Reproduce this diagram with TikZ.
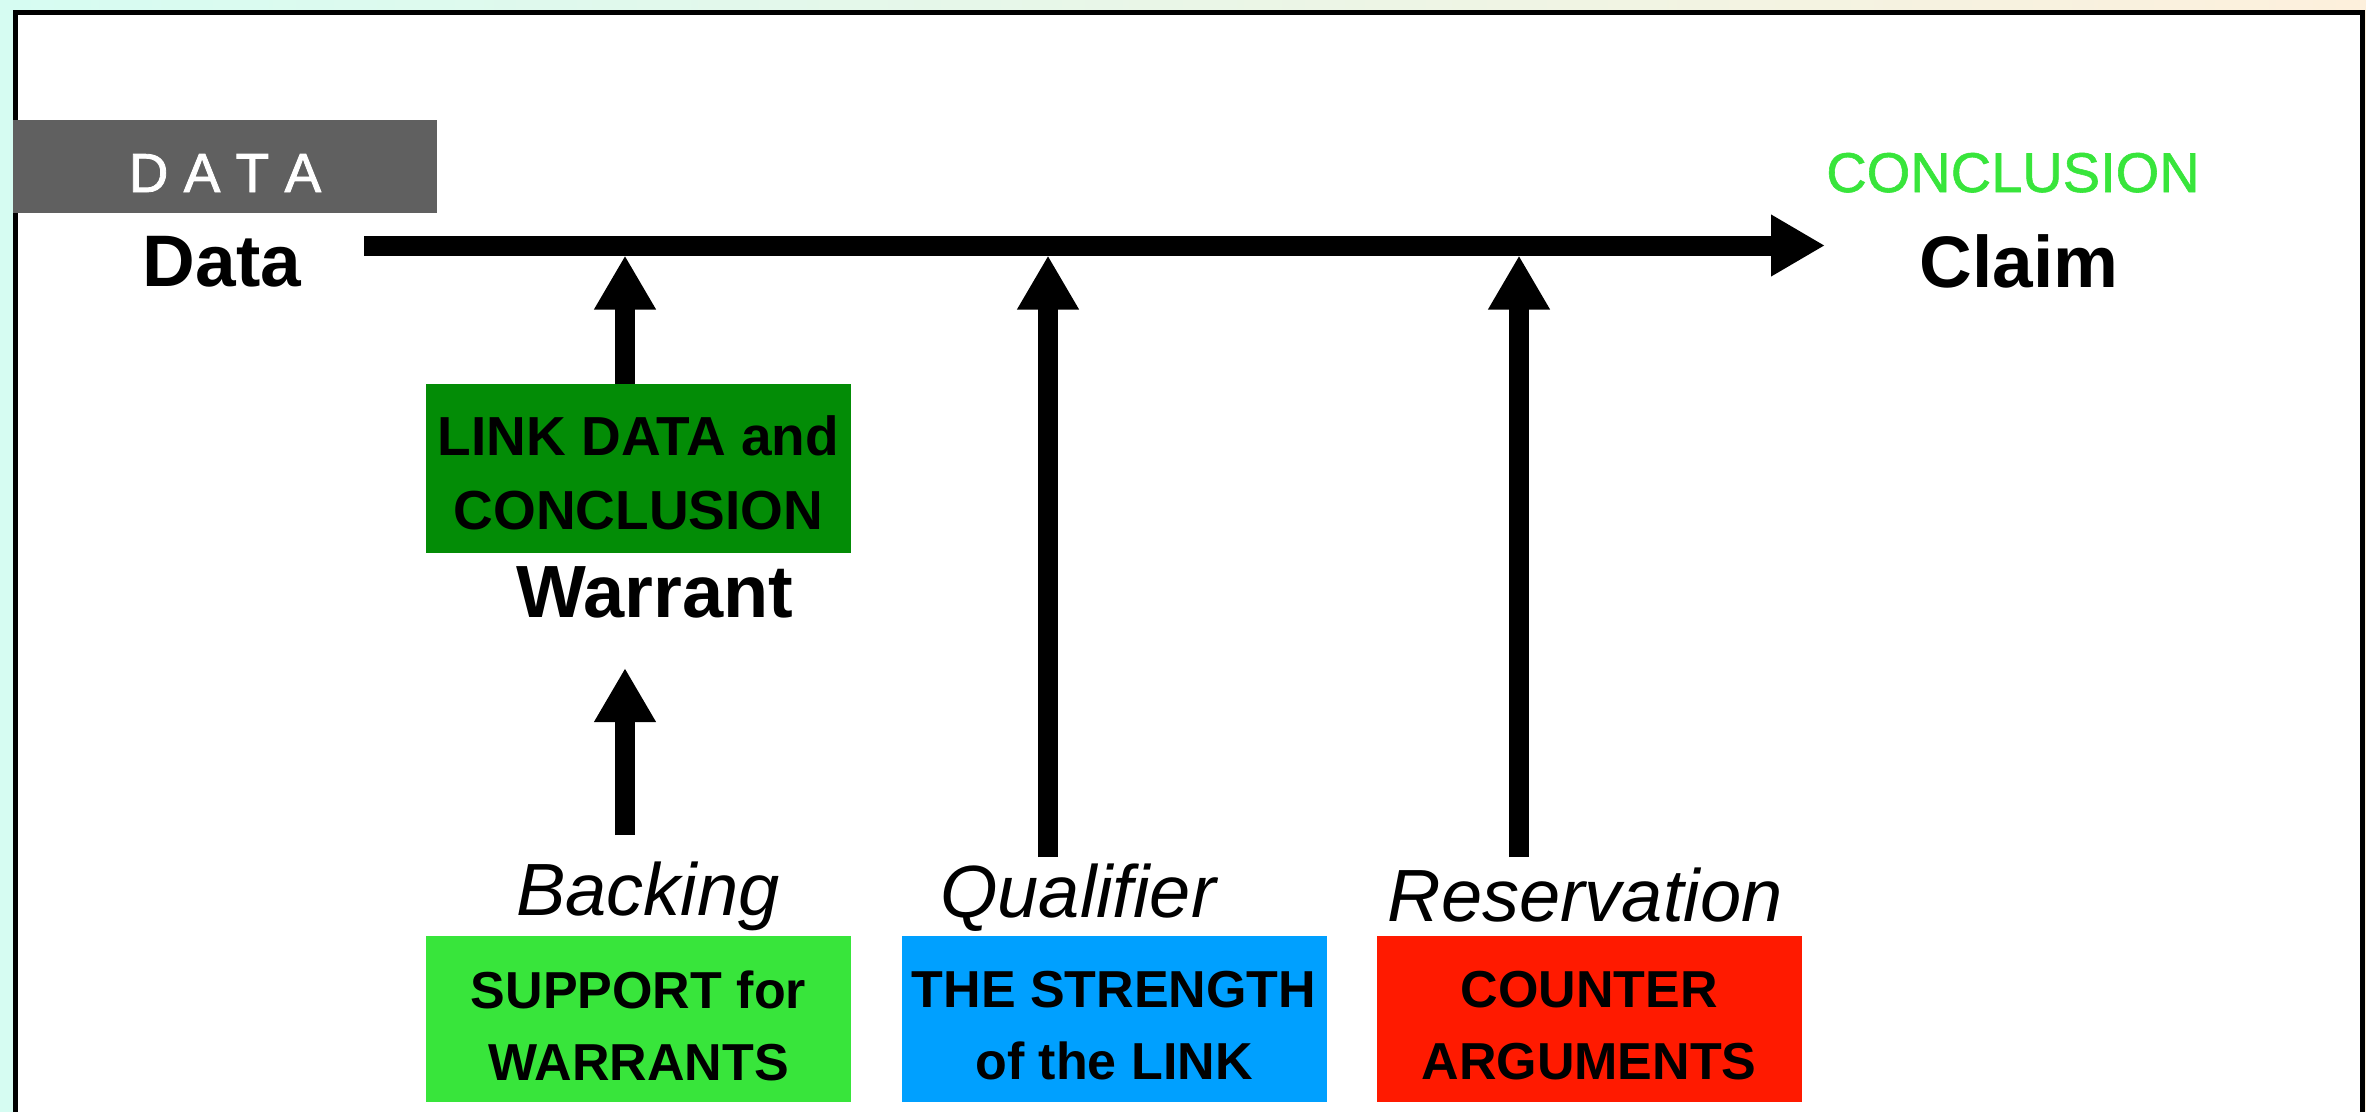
\documentclass[tikz,border=0pt]{standalone}
\usepackage{fontspec}
\setmainfont{Liberation Sans}
\usetikzlibrary{arrows.meta,calc}
\definecolor{mint}{HTML}{D6FCF2}
\definecolor{cream}{HTML}{FDF0DC}
\definecolor{datagray}{HTML}{606060}
\definecolor{darkgreen}{HTML}{038C06}
\definecolor{brightgreen}{HTML}{38E53B}
\definecolor{skyblue}{HTML}{00A0FF}
\definecolor{brightred}{HTML}{FF1A00}
\begin{document}
\begin{tikzpicture}[x=1pt,y=-1pt,
  bigarrow/.style={line width=20pt,-{Triangle[length=54pt,width=58pt]}},
  term/.style={inner sep=0pt,anchor=base,font=\fontsize{73}{80}\selectfont\bfseries},
  role/.style={inner sep=0pt,anchor=base,font=\fontsize{74}{80}\selectfont\itshape},
  colbox/.style={draw=none,inner sep=0pt,minimum width=425pt,minimum height=166pt},
  boxtext/.style={inner sep=0pt,align=center,font=\fontsize{52}{72}\selectfont\bfseries},
]
\useasboundingbox (0,0) rectangle (2366,1111);
\shade[left color=mint,right color=cream] (0,0) rectangle (2366,1111);
\draw[line width=5pt,fill=white] (15,12) rectangle (2362,1140);

% DATA banner
\node[fill=datagray,text=white,inner sep=0pt,minimum width=424pt,minimum height=93pt,
      text height=51pt,text depth=0pt,font=\fontsize{55}{60}\selectfont\addfontfeature{FakeBold=1.5}] (databox) at (225,166.5) {D A T A};
\node[text=brightgreen,inner sep=0pt,anchor=base,font=\fontsize{56}{60}\selectfont\addfontfeature{FakeBold=1}] (concl) at (2013,192) {CONCLUSION};

% terms
\node[term] (data) at (222,286) {Data};
\node[term] (claim) at (2019,287) {Claim};
\node[term,font=\fontsize{74}{80}\selectfont\bfseries] (warrant) at (655,617) {Warrant};

% role labels
\node[role] (backing) at (648,915) {Backing};
\node[role] (qualifier) at (1078,917) {Qualifier};
\node[role] (reservation) at (1585,921) {Reservation};

% coloured boxes
\node[colbox,fill=darkgreen,minimum height=169pt] (wbox) at (638.5,468.5) {};
\node[boxtext,font=\fontsize{55}{74}\selectfont\bfseries] (wtext) at (638.5,472.5) {LINK DATA and\\CONCLUSION};
\node[colbox,fill=brightgreen] (sbox) at (638.5,1019) {};
\node[boxtext] (stext) at (638.5,1025.5) {SUPPORT for\\WARRANTS};
\node[colbox,fill=skyblue] (qbox) at (1114,1019) {};
\node[boxtext] (qtext) at (1114,1025.5) {THE STRENGTH\\of the LINK};
\node[colbox,fill=brightred] (rbox) at (1589,1019) {};
\node[boxtext] (rtext) at (1589,1025.5) {COUNTER\\ARGUMENTS};

% connectors
\coordinate (lineS) at (364,245.5);
\coordinate (lineE) at (1825,245.5);
\coordinate (lineB) at (0,255.5);
\draw[bigarrow] (lineS) -- (lineE);
\coordinate (wfoot) at ($(wbox.north)+(-13.5,0)$);
\draw[bigarrow] (wfoot) -- (wfoot |- lineB);
\coordinate (bfoot) at (625,835);
\coordinate (btip) at (625,668);
\draw[bigarrow] (bfoot) -- (btip);
\coordinate (qfoot) at (1048,857);
\draw[bigarrow] (qfoot) -- (qfoot |- lineB);
\coordinate (rfoot) at (1519,857);
\draw[bigarrow] (rfoot) -- (rfoot |- lineB);
\end{tikzpicture}
\end{document}
